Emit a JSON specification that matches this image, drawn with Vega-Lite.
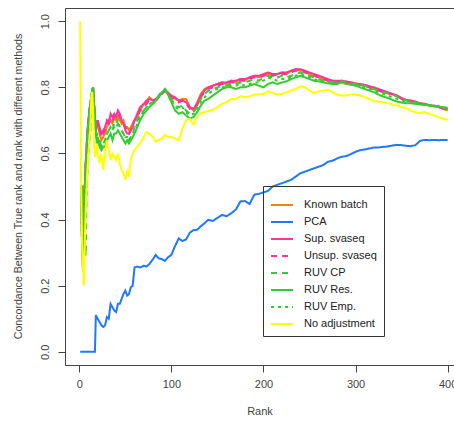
{
  "$schema": "https://vega.github.io/schema/vega-lite/v6.json",
  "autosize": {"type": "none"},
  "width": 389,
  "height": 357,
  "padding": {"left": 65, "top": 8, "right": 0, "bottom": 56},
  "background": "white",
  "config": {
    "view": {"stroke": "#444", "strokeWidth": 1},
    "font": "Liberation Sans",
    "axis": {"domain": false, "grid": false, "tickColor": "#444", "tickSize": 7, "labelFont": "Liberation Sans", "labelFontSize": 11, "labelColor": "#444", "titleFont": "Liberation Sans", "titleFontSize": 11, "titleFontWeight": "normal", "titleColor": "#444", "titleLimit": 1000},
    "legend": {"labelFont": "Liberation Sans", "labelFontSize": 11, "labelColor": "#222"}
  },
  "data": {"values": [
    {"r":1,"kb":0.5,"pca":0,"sup":0.5,"uns":0.5,"cp":0.5,"res":0.5,"emp":0.5,"no":1.0},
    {"r":2,"kb":0.5,"pca":0,"sup":0.5,"uns":0.5,"cp":0.5,"res":0.5,"emp":0.5,"no":0.5},
    {"r":3,"kb":0.33,"pca":0,"sup":0.33,"uns":0.33,"cp":0.5,"res":0.33,"emp":0.33,"no":0.33},
    {"r":4,"kb":0.5,"pca":0,"sup":0.25,"uns":0.5,"cp":0.5,"res":0.25,"emp":0.5,"no":0.25},
    {"r":5,"kb":0.4,"pca":0,"sup":0.4,"uns":0.4,"cp":0.4,"res":0.4,"emp":0.4,"no":0.2},
    {"r":6,"kb":0.5,"pca":0,"sup":0.5,"uns":0.5,"cp":0.33,"res":0.5,"emp":0.5,"no":0.33},
    {"r":7,"kb":0.57,"pca":0,"sup":0.57,"uns":0.57,"cp":0.29,"res":0.57,"emp":0.43,"no":0.43},
    {"r":8,"kb":0.62,"pca":0,"sup":0.62,"uns":0.62,"cp":0.5,"res":0.62,"emp":0.5,"no":0.5},
    {"r":9,"kb":0.67,"pca":0,"sup":0.67,"uns":0.67,"cp":0.56,"res":0.67,"emp":0.56,"no":0.56},
    {"r":10,"kb":0.7,"pca":0,"sup":0.7,"uns":0.7,"cp":0.6,"res":0.7,"emp":0.6,"no":0.6},
    {"r":11,"kb":0.73,"pca":0,"sup":0.73,"uns":0.73,"cp":0.64,"res":0.73,"emp":0.64,"no":0.64},
    {"r":12,"kb":0.75,"pca":0,"sup":0.75,"uns":0.75,"cp":0.67,"res":0.75,"emp":0.67,"no":0.67},
    {"r":13,"kb":0.77,"pca":0,"sup":0.77,"uns":0.77,"cp":0.77,"res":0.77,"emp":0.77,"no":0.77},
    {"r":14,"kb":0.79,"pca":0,"sup":0.79,"uns":0.79,"cp":0.79,"res":0.79,"emp":0.79,"no":0.786},
    {"r":15,"kb":0.8,"pca":0,"sup":0.8,"uns":0.8,"cp":0.8,"res":0.8,"emp":0.8,"no":0.73},
    {"r":16,"kb":0.75,"pca":0,"sup":0.75,"uns":0.75,"cp":0.75,"res":0.75,"emp":0.75,"no":0.63},
    {"r":17,"kb":0.71,"pca":0,"sup":0.71,"uns":0.71,"cp":0.71,"res":0.71,"emp":0.71,"no":0.59},
    {"r":18,"kb":0.67,"pca":0.111,"sup":0.67,"uns":0.67,"cp":0.67,"res":0.67,"emp":0.67,"no":0.61},
    {"r":19,"kb":0.68,"pca":0.105,"sup":0.68,"uns":0.68,"cp":0.63,"res":0.63,"emp":0.66,"no":0.63},
    {"r":20,"kb":0.7,"pca":0.1,"sup":0.7,"uns":0.7,"cp":0.65,"res":0.65,"emp":0.65,"no":0.6},
    {"r":22,"kb":0.66,"pca":0.09,"sup":0.68,"uns":0.67,"cp":0.64,"res":0.62,"emp":0.63,"no":0.57},
    {"r":24,"kb":0.64,"pca":0.08,"sup":0.66,"uns":0.65,"cp":0.62,"res":0.61,"emp":0.62,"no":0.6},
    {"r":26,"kb":0.65,"pca":0.075,"sup":0.67,"uns":0.66,"cp":0.63,"res":0.62,"emp":0.63,"no":0.55},
    {"r":28,"kb":0.66,"pca":0.08,"sup":0.68,"uns":0.67,"cp":0.64,"res":0.62,"emp":0.64,"no":0.6},
    {"r":30,"kb":0.68,"pca":0.105,"sup":0.7,"uns":0.69,"cp":0.66,"res":0.64,"emp":0.66,"no":0.64},
    {"r":32,"kb":0.69,"pca":0.1,"sup":0.69,"uns":0.7,"cp":0.67,"res":0.65,"emp":0.67,"no":0.61},
    {"r":34,"kb":0.7,"pca":0.145,"sup":0.72,"uns":0.71,"cp":0.68,"res":0.66,"emp":0.68,"no":0.58},
    {"r":36,"kb":0.69,"pca":0.135,"sup":0.71,"uns":0.7,"cp":0.67,"res":0.64,"emp":0.67,"no":0.6},
    {"r":38,"kb":0.71,"pca":0.125,"sup":0.72,"uns":0.71,"cp":0.69,"res":0.66,"emp":0.68,"no":0.59},
    {"r":40,"kb":0.7,"pca":0.12,"sup":0.71,"uns":0.72,"cp":0.68,"res":0.66,"emp":0.69,"no":0.58},
    {"r":42,"kb":0.71,"pca":0.145,"sup":0.73,"uns":0.72,"cp":0.69,"res":0.67,"emp":0.7,"no":0.6},
    {"r":44,"kb":0.7,"pca":0.145,"sup":0.72,"uns":0.71,"cp":0.68,"res":0.66,"emp":0.68,"no":0.57},
    {"r":46,"kb":0.69,"pca":0.16,"sup":0.7,"uns":0.7,"cp":0.67,"res":0.65,"emp":0.67,"no":0.55},
    {"r":48,"kb":0.7,"pca":0.175,"sup":0.69,"uns":0.69,"cp":0.66,"res":0.64,"emp":0.66,"no":0.54},
    {"r":50,"kb":0.68,"pca":0.185,"sup":0.67,"uns":0.68,"cp":0.65,"res":0.63,"emp":0.65,"no":0.52},
    {"r":52,"kb":0.68,"pca":0.17,"sup":0.66,"uns":0.67,"cp":0.65,"res":0.64,"emp":0.65,"no":0.545},
    {"r":54,"kb":0.67,"pca":0.175,"sup":0.66,"uns":0.66,"cp":0.64,"res":0.63,"emp":0.64,"no":0.53},
    {"r":56,"kb":0.68,"pca":0.195,"sup":0.67,"uns":0.67,"cp":0.65,"res":0.64,"emp":0.65,"no":0.58},
    {"r":58,"kb":0.69,"pca":0.2,"sup":0.68,"uns":0.69,"cp":0.66,"res":0.65,"emp":0.66,"no":0.6},
    {"r":60,"kb":0.7,"pca":0.255,"sup":0.7,"uns":0.7,"cp":0.68,"res":0.66,"emp":0.67,"no":0.61},
    {"r":63,"kb":0.71,"pca":0.258,"sup":0.72,"uns":0.71,"cp":0.7,"res":0.68,"emp":0.69,"no":0.62},
    {"r":66,"kb":0.73,"pca":0.255,"sup":0.74,"uns":0.73,"cp":0.72,"res":0.7,"emp":0.71,"no":0.63},
    {"r":70,"kb":0.75,"pca":0.26,"sup":0.75,"uns":0.74,"cp":0.73,"res":0.72,"emp":0.73,"no":0.65},
    {"r":73,"kb":0.755,"pca":0.258,"sup":0.76,"uns":0.75,"cp":0.74,"res":0.73,"emp":0.74,"no":0.665},
    {"r":76,"kb":0.77,"pca":0.265,"sup":0.765,"uns":0.76,"cp":0.75,"res":0.74,"emp":0.75,"no":0.66},
    {"r":80,"kb":0.76,"pca":0.28,"sup":0.76,"uns":0.76,"cp":0.75,"res":0.75,"emp":0.755,"no":0.65},
    {"r":83,"kb":0.76,"pca":0.293,"sup":0.765,"uns":0.76,"cp":0.76,"res":0.76,"emp":0.76,"no":0.635},
    {"r":86,"kb":0.77,"pca":0.283,"sup":0.77,"uns":0.77,"cp":0.775,"res":0.77,"emp":0.77,"no":0.64},
    {"r":90,"kb":0.785,"pca":0.28,"sup":0.785,"uns":0.78,"cp":0.79,"res":0.785,"emp":0.785,"no":0.645},
    {"r":93,"kb":0.79,"pca":0.275,"sup":0.79,"uns":0.79,"cp":0.795,"res":0.795,"emp":0.795,"no":0.657},
    {"r":96,"kb":0.78,"pca":0.285,"sup":0.785,"uns":0.78,"cp":0.785,"res":0.78,"emp":0.78,"no":0.65},
    {"r":100,"kb":0.77,"pca":0.293,"sup":0.775,"uns":0.77,"cp":0.765,"res":0.755,"emp":0.76,"no":0.65},
    {"r":104,"kb":0.765,"pca":0.32,"sup":0.77,"uns":0.765,"cp":0.745,"res":0.73,"emp":0.74,"no":0.645},
    {"r":108,"kb":0.76,"pca":0.343,"sup":0.76,"uns":0.755,"cp":0.74,"res":0.72,"emp":0.735,"no":0.64},
    {"r":112,"kb":0.765,"pca":0.335,"sup":0.76,"uns":0.76,"cp":0.745,"res":0.725,"emp":0.74,"no":0.675},
    {"r":116,"kb":0.765,"pca":0.34,"sup":0.755,"uns":0.75,"cp":0.73,"res":0.715,"emp":0.725,"no":0.7},
    {"r":120,"kb":0.74,"pca":0.36,"sup":0.74,"uns":0.735,"cp":0.72,"res":0.705,"emp":0.715,"no":0.705},
    {"r":124,"kb":0.73,"pca":0.368,"sup":0.735,"uns":0.735,"cp":0.725,"res":0.71,"emp":0.72,"no":0.687},
    {"r":128,"kb":0.755,"pca":0.369,"sup":0.75,"uns":0.745,"cp":0.74,"res":0.725,"emp":0.735,"no":0.71},
    {"r":132,"kb":0.78,"pca":0.38,"sup":0.775,"uns":0.77,"cp":0.765,"res":0.745,"emp":0.755,"no":0.722},
    {"r":136,"kb":0.795,"pca":0.389,"sup":0.79,"uns":0.785,"cp":0.78,"res":0.76,"emp":0.77,"no":0.725},
    {"r":140,"kb":0.8,"pca":0.399,"sup":0.8,"uns":0.795,"cp":0.79,"res":0.765,"emp":0.78,"no":0.728},
    {"r":145,"kb":0.805,"pca":0.396,"sup":0.805,"uns":0.8,"cp":0.795,"res":0.775,"emp":0.79,"no":0.732},
    {"r":150,"kb":0.81,"pca":0.405,"sup":0.81,"uns":0.805,"cp":0.8,"res":0.785,"emp":0.795,"no":0.74},
    {"r":155,"kb":0.815,"pca":0.414,"sup":0.815,"uns":0.81,"cp":0.805,"res":0.795,"emp":0.8,"no":0.75},
    {"r":160,"kb":0.81,"pca":0.41,"sup":0.815,"uns":0.81,"cp":0.805,"res":0.8,"emp":0.8,"no":0.755},
    {"r":165,"kb":0.82,"pca":0.419,"sup":0.82,"uns":0.815,"cp":0.81,"res":0.8,"emp":0.805,"no":0.765},
    {"r":170,"kb":0.815,"pca":0.43,"sup":0.82,"uns":0.815,"cp":0.81,"res":0.795,"emp":0.805,"no":0.765},
    {"r":175,"kb":0.825,"pca":0.455,"sup":0.825,"uns":0.82,"cp":0.815,"res":0.8,"emp":0.81,"no":0.773},
    {"r":180,"kb":0.82,"pca":0.456,"sup":0.825,"uns":0.82,"cp":0.815,"res":0.8,"emp":0.805,"no":0.77},
    {"r":185,"kb":0.83,"pca":0.447,"sup":0.83,"uns":0.825,"cp":0.82,"res":0.805,"emp":0.81,"no":0.773},
    {"r":190,"kb":0.835,"pca":0.475,"sup":0.835,"uns":0.83,"cp":0.825,"res":0.81,"emp":0.815,"no":0.778},
    {"r":195,"kb":0.83,"pca":0.478,"sup":0.835,"uns":0.83,"cp":0.82,"res":0.805,"emp":0.815,"no":0.778},
    {"r":200,"kb":0.835,"pca":0.482,"sup":0.84,"uns":0.835,"cp":0.83,"res":0.8,"emp":0.82,"no":0.78},
    {"r":205,"kb":0.84,"pca":0.487,"sup":0.845,"uns":0.84,"cp":0.835,"res":0.81,"emp":0.83,"no":0.788},
    {"r":210,"kb":0.835,"pca":0.5,"sup":0.84,"uns":0.835,"cp":0.83,"res":0.815,"emp":0.825,"no":0.783},
    {"r":215,"kb":0.84,"pca":0.505,"sup":0.84,"uns":0.84,"cp":0.83,"res":0.81,"emp":0.82,"no":0.778},
    {"r":220,"kb":0.845,"pca":0.51,"sup":0.845,"uns":0.84,"cp":0.835,"res":0.815,"emp":0.825,"no":0.78},
    {"r":225,"kb":0.84,"pca":0.515,"sup":0.845,"uns":0.84,"cp":0.83,"res":0.818,"emp":0.825,"no":0.785},
    {"r":230,"kb":0.85,"pca":0.52,"sup":0.85,"uns":0.845,"cp":0.835,"res":0.825,"emp":0.83,"no":0.79},
    {"r":235,"kb":0.855,"pca":0.53,"sup":0.855,"uns":0.85,"cp":0.84,"res":0.83,"emp":0.835,"no":0.795},
    {"r":240,"kb":0.85,"pca":0.54,"sup":0.855,"uns":0.85,"cp":0.845,"res":0.835,"emp":0.84,"no":0.803},
    {"r":245,"kb":0.85,"pca":0.545,"sup":0.85,"uns":0.845,"cp":0.84,"res":0.83,"emp":0.835,"no":0.8},
    {"r":250,"kb":0.84,"pca":0.55,"sup":0.845,"uns":0.84,"cp":0.835,"res":0.825,"emp":0.83,"no":0.79},
    {"r":255,"kb":0.835,"pca":0.555,"sup":0.84,"uns":0.835,"cp":0.83,"res":0.82,"emp":0.825,"no":0.783},
    {"r":260,"kb":0.83,"pca":0.56,"sup":0.835,"uns":0.83,"cp":0.825,"res":0.818,"emp":0.82,"no":0.788},
    {"r":265,"kb":0.825,"pca":0.565,"sup":0.83,"uns":0.825,"cp":0.82,"res":0.815,"emp":0.818,"no":0.79},
    {"r":270,"kb":0.82,"pca":0.575,"sup":0.825,"uns":0.82,"cp":0.818,"res":0.812,"emp":0.815,"no":0.793},
    {"r":275,"kb":0.82,"pca":0.578,"sup":0.82,"uns":0.818,"cp":0.815,"res":0.81,"emp":0.812,"no":0.785},
    {"r":280,"kb":0.815,"pca":0.585,"sup":0.82,"uns":0.815,"cp":0.815,"res":0.81,"emp":0.812,"no":0.778},
    {"r":285,"kb":0.82,"pca":0.59,"sup":0.82,"uns":0.818,"cp":0.818,"res":0.815,"emp":0.815,"no":0.775},
    {"r":290,"kb":0.815,"pca":0.592,"sup":0.818,"uns":0.815,"cp":0.815,"res":0.81,"emp":0.812,"no":0.776},
    {"r":295,"kb":0.815,"pca":0.598,"sup":0.815,"uns":0.813,"cp":0.812,"res":0.808,"emp":0.81,"no":0.778},
    {"r":300,"kb":0.81,"pca":0.605,"sup":0.812,"uns":0.81,"cp":0.81,"res":0.805,"emp":0.808,"no":0.778},
    {"r":305,"kb":0.808,"pca":0.61,"sup":0.81,"uns":0.808,"cp":0.808,"res":0.8,"emp":0.805,"no":0.775},
    {"r":310,"kb":0.805,"pca":0.612,"sup":0.808,"uns":0.805,"cp":0.805,"res":0.795,"emp":0.8,"no":0.77},
    {"r":315,"kb":0.8,"pca":0.615,"sup":0.803,"uns":0.8,"cp":0.8,"res":0.79,"emp":0.795,"no":0.765},
    {"r":320,"kb":0.795,"pca":0.618,"sup":0.8,"uns":0.795,"cp":0.795,"res":0.785,"emp":0.79,"no":0.758},
    {"r":325,"kb":0.79,"pca":0.618,"sup":0.795,"uns":0.79,"cp":0.79,"res":0.778,"emp":0.785,"no":0.757},
    {"r":330,"kb":0.785,"pca":0.62,"sup":0.79,"uns":0.785,"cp":0.785,"res":0.772,"emp":0.78,"no":0.755},
    {"r":335,"kb":0.782,"pca":0.621,"sup":0.785,"uns":0.783,"cp":0.782,"res":0.768,"emp":0.775,"no":0.752},
    {"r":340,"kb":0.78,"pca":0.624,"sup":0.78,"uns":0.778,"cp":0.778,"res":0.762,"emp":0.77,"no":0.748},
    {"r":345,"kb":0.775,"pca":0.626,"sup":0.775,"uns":0.773,"cp":0.772,"res":0.757,"emp":0.765,"no":0.745},
    {"r":350,"kb":0.765,"pca":0.625,"sup":0.768,"uns":0.765,"cp":0.765,"res":0.754,"emp":0.76,"no":0.74},
    {"r":355,"kb":0.76,"pca":0.623,"sup":0.762,"uns":0.76,"cp":0.76,"res":0.752,"emp":0.757,"no":0.737},
    {"r":360,"kb":0.76,"pca":0.622,"sup":0.76,"uns":0.758,"cp":0.758,"res":0.752,"emp":0.755,"no":0.73},
    {"r":365,"kb":0.755,"pca":0.625,"sup":0.757,"uns":0.755,"cp":0.755,"res":0.75,"emp":0.752,"no":0.724},
    {"r":370,"kb":0.75,"pca":0.638,"sup":0.752,"uns":0.75,"cp":0.752,"res":0.748,"emp":0.75,"no":0.722},
    {"r":375,"kb":0.75,"pca":0.641,"sup":0.75,"uns":0.748,"cp":0.75,"res":0.747,"emp":0.748,"no":0.725},
    {"r":380,"kb":0.745,"pca":0.64,"sup":0.746,"uns":0.745,"cp":0.746,"res":0.745,"emp":0.745,"no":0.72},
    {"r":385,"kb":0.743,"pca":0.641,"sup":0.745,"uns":0.743,"cp":0.744,"res":0.743,"emp":0.744,"no":0.715},
    {"r":390,"kb":0.74,"pca":0.64,"sup":0.742,"uns":0.74,"cp":0.742,"res":0.742,"emp":0.742,"no":0.71},
    {"r":395,"kb":0.735,"pca":0.641,"sup":0.738,"uns":0.736,"cp":0.738,"res":0.74,"emp":0.739,"no":0.705},
    {"r":400,"kb":0.73,"pca":0.641,"sup":0.733,"uns":0.732,"cp":0.735,"res":0.738,"emp":0.736,"no":0.702}
  ]},
  "transform": [{"fold": ["kb", "pca", "sup", "uns", "cp", "res", "emp", "no"], "as": ["method", "value"]}],
  "mark": {"type": "line", "strokeWidth": 2, "clip": true},
  "encoding": {
    "x": {"field": "r", "type": "quantitative", "scale": {"domain": [-15.5, 406.9], "nice": false, "zero": false},
      "axis": {"values": [0, 100, 200, 300, 400], "title": "Rank", "labelPadding": 6, "titlePadding": 16}},
    "y": {"field": "value", "type": "quantitative", "scale": {"domain": [-0.04, 1.04], "nice": false, "zero": false},
      "axis": {"values": [0, 0.2, 0.4, 0.6, 0.8, 1.0], "format": ".1f", "labelAngle": -90, "labelAlign": "center", "labelBaseline": "middle", "labelPadding": 13,
        "title": "Concordance Between True rank and rank with different methods", "titleFontSize": 10.6, "titleLimit": 1000, "titleAngle": -90, "titleX": -47, "titleY": 178, "titleAlign": "center", "titleBaseline": "middle"}},
    "color": {"field": "method", "type": "nominal",
      "scale": {"domain": ["kb", "pca", "sup", "uns", "cp", "res", "emp", "no"], "range": ["#FF7F00", "#1F78FF", "#FF3399", "#FF3399", "#33CC33", "#33CC33", "#33CC33", "#FFFF00"]},
      "legend": {"title": null, "orient": "none", "legendX": 198, "legendY": 178, "strokeColor": "#333", "padding": 7, "symbolType": "stroke", "symbolSize": 484, "symbolStrokeWidth": 2, "labelOffset": 10, "rowPadding": -3.3,
        "labelExpr": "datum.label == 'kb' ? 'Known batch' : datum.label == 'pca' ? 'PCA' : datum.label == 'sup' ? 'Sup. svaseq' : datum.label == 'uns' ? 'Unsup. svaseq' : datum.label == 'cp' ? 'RUV CP' : datum.label == 'res' ? 'RUV Res.' : datum.label == 'emp' ? 'RUV Emp.' : 'No adjustment'"}},
    "strokeDash": {"field": "method", "type": "nominal",
      "scale": {"domain": ["kb", "pca", "sup", "uns", "cp", "res", "emp", "no"], "range": [[1, 0], [1, 0], [1, 0], [6, 5], [6, 5], [1, 0], [3, 4], [1, 0]]},
      "legend": {"title": null, "orient": "none", "legendX": 198, "legendY": 178, "strokeColor": "#333", "padding": 7, "symbolType": "stroke", "symbolSize": 484, "symbolStrokeWidth": 2, "labelOffset": 10, "rowPadding": -3.3,
        "labelExpr": "datum.label == 'kb' ? 'Known batch' : datum.label == 'pca' ? 'PCA' : datum.label == 'sup' ? 'Sup. svaseq' : datum.label == 'uns' ? 'Unsup. svaseq' : datum.label == 'cp' ? 'RUV CP' : datum.label == 'res' ? 'RUV Res.' : datum.label == 'emp' ? 'RUV Emp.' : 'No adjustment'"}}
  }
}
